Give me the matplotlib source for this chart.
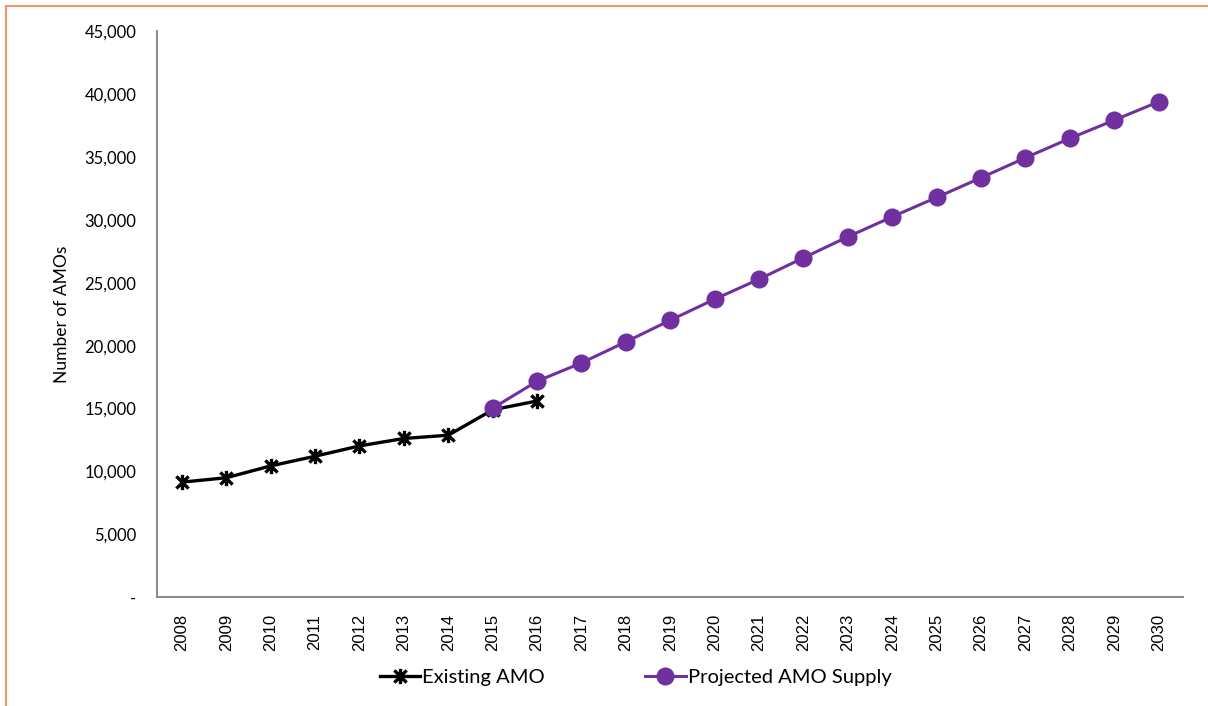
#!/usr/bin/env python3
"""AMO supply chart: existing vs projected."""

import matplotlib

matplotlib.use("Agg")
import matplotlib.pyplot as plt
from matplotlib.lines import Line2D
from matplotlib.path import Path
from matplotlib.ticker import FuncFormatter

YEARS = list(range(2008, 2031))

EXISTING_YEARS = list(range(2008, 2017))
EXISTING_AMO = [9150, 9500, 10440, 11210, 12030, 12620, 12880, 14900, 15600]

PROJECTED_YEARS = list(range(2015, 2031))
PROJECTED_AMO = [
    15030, 17170, 18630, 20300, 22020, 23690, 25280, 26980,
    28650, 30240, 31780, 33340, 34930, 36470, 37920, 39380,
]

PURPLE = "#7030A0"
BORDER = "#F7956A"
SPINE = "#8C8C8C"
TEXT_FONT = ["Lato", "DejaVu Sans"]
TICK_FONT = ["Liberation Sans", "DejaVu Sans"]

# Excel-style star: an X with a vertical bar through it
STAR = Path(
    [(-1, -1), (1, 1), (-1, 1), (1, -1), (0, -1.25), (0, 1.25)],
    [Path.MOVETO, Path.LINETO, Path.MOVETO, Path.LINETO, Path.MOVETO, Path.LINETO],
)


def _ytick(v, _pos):
    return "-" if v == 0 else f"{int(v):,}"


fig = plt.figure(figsize=(12.08, 7.06), dpi=100)
ax = fig.add_axes([0.130, 0.154, 0.849, 0.802])

idx = {y: i for i, y in enumerate(YEARS)}
ex_x = [idx[y] for y in EXISTING_YEARS]
pr_x = [idx[y] for y in PROJECTED_YEARS]

ax.plot(ex_x, EXISTING_AMO, color="black", lw=2.4, marker=STAR,
        markersize=11, markeredgewidth=2.4, label="Existing AMO", zorder=2)
ax.plot(pr_x, PROJECTED_AMO, color=PURPLE, lw=2.2, marker="o",
        markersize=13, markeredgewidth=0, label="Projected AMO Supply", zorder=3)

ax.set_xlim(-0.56, len(YEARS) - 0.46)
ax.set_ylim(0, 45000)
ax.set_yticks(range(0, 45001, 5000))
ax.yaxis.set_major_formatter(FuncFormatter(_ytick))
ax.set_xticks(range(len(YEARS)))
ax.set_xticklabels([str(y) for y in YEARS], rotation=90, family=TICK_FONT,
                   fontsize=12)
for lbl in ax.get_yticklabels():
    lbl.set_family(TEXT_FONT)
    lbl.set_fontsize(12)
ax.tick_params(length=0, pad=15, axis="y")
ax.tick_params(length=0, pad=12, axis="x")

for side in ("top", "right"):
    ax.spines[side].set_visible(False)
for side in ("left", "bottom"):
    ax.spines[side].set_color(SPINE)
    ax.spines[side].set_linewidth(1.5)

ax.set_ylabel("Number of AMOs", family=TEXT_FONT, fontsize=12.5, labelpad=10)

fig.legend(loc="center", bbox_to_anchor=(0.526, 0.041), ncol=2, frameon=False,
           prop={"family": TEXT_FONT, "size": 14.5}, handlelength=2.0,
           handletextpad=0.1, columnspacing=5.0)

# orange frame on top and left edges
fig.add_artist(Line2D([0.005, 1.0], [0.9915, 0.9915], color=BORDER, lw=1.5,
                      transform=fig.transFigure))
fig.add_artist(Line2D([0.005, 0.005], [0.0, 0.9915], color=BORDER, lw=1.5,
                      transform=fig.transFigure))

fig.savefig("out.png", dpi=100)
